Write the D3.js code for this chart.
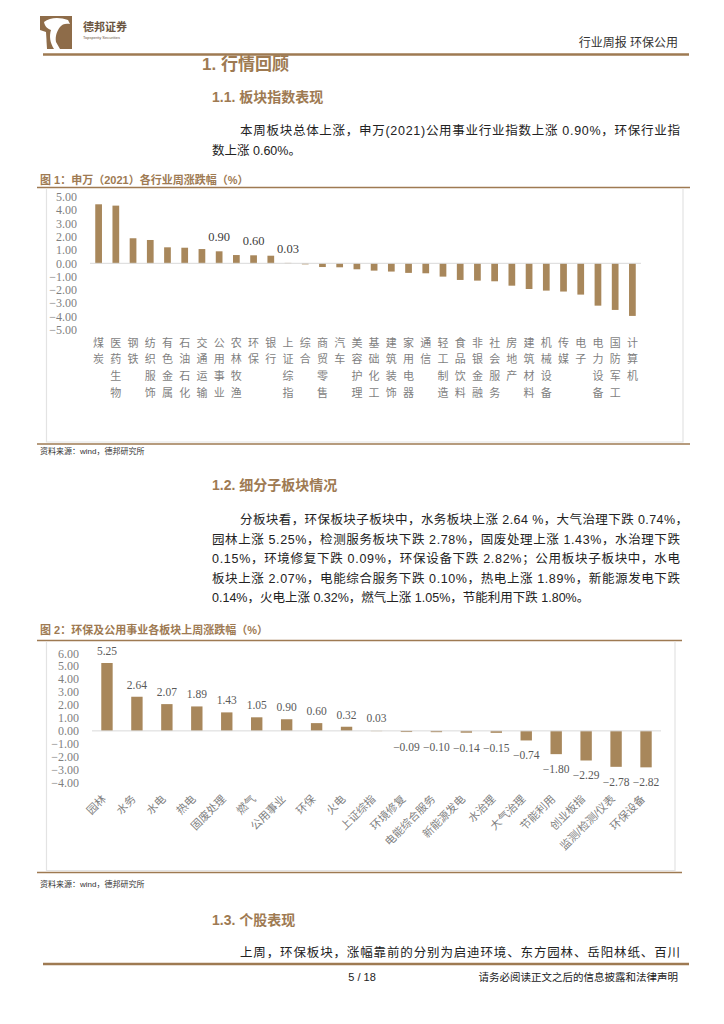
<!DOCTYPE html>
<html><head><meta charset="utf-8">
<script src="https://cdn.jsdelivr.net/npm/d3@7"></script>
<style>body{margin:0;background:#fff}svg{display:block}</style>
</head><body>
<svg id="page" width="724" height="1024"></svg>
<script>
// ---------- DATA ----------
const chart1Categories = ["煤炭","医药生物","钢铁","纺织服饰","有色金属","石油石化","交通运输","公用事业","农林牧渔","环保","银行","上证综指","综合","商贸零售","汽车","美容护理","基础化工","建筑装饰","家用电器","通信","轻工制造","食品饮料","非银金融","社会服务","房地产","建筑材料","机械设备","传媒","电子","电力设备","国防军工","计算机"];
const chart1Values = [4.43,4.33,1.88,1.75,1.20,1.17,1.07,0.90,0.62,0.60,0.57,0.03,-0.08,-0.28,-0.30,-0.45,-0.55,-0.62,-0.72,-0.75,-1.00,-1.25,-1.30,-1.35,-1.68,-1.93,-2.05,-2.12,-2.35,-3.18,-3.50,-3.95];
const chart1Labeled = ["公用事业","环保","上证综指"];
const chart1Ticks = [5,4,3,2,1,0,-1,-2,-3,-4,-5];

const chart2Categories = ["园林","水务","水电","热电","固废处理","燃气","公用事业","环保","火电","上证综指","环境修复","电能综合服务","新能源发电","水治理","大气治理","节能利用","创业板指","监测/检测/仪表","环保设备"];
const chart2Values = [5.25,2.64,2.07,1.89,1.43,1.05,0.90,0.60,0.32,0.03,-0.09,-0.10,-0.14,-0.15,-0.74,-1.80,-2.29,-2.78,-2.82];
const chart2Ticks = [6,5,4,3,2,1,0,-1,-2,-3,-4];

const para1 = ["本周板块总体上涨，申万(2021)公用事业行业指数上涨 0.90%，环保行业指","数上涨 0.60%。"];
const para2 = ["分板块看，环保板块子板块中，水务板块上涨 2.64 %，大气治理下跌 0.74%，","园林上涨 5.25%，检测服务板块下跌 2.78%，固废处理上涨 1.43%，水治理下跌","0.15%，环境修复下跌 0.09%，环保设备下跌 2.82%；公用板块子板块中，水电","板块上涨 2.07%，电能综合服务下跌 0.10%，热电上涨 1.89%，新能源发电下跌","0.14%，火电上涨 0.32%，燃气上涨 1.05%，节能利用下跌 1.80%。"];
const para3 = ["上周，环保板块，涨幅靠前的分别为启迪环境、东方园林、岳阳林纸、百川"];

// ---------- STYLE ----------
const BROWN = "#9E7A52", BAR = "#A8875B", GREY = "#7f7f7f", LIGHT = "#d9d9d9";
const CJK = "'Liberation Sans','Noto Sans CJK SC',sans-serif";
const SERIF = "'Liberation Serif','Noto Serif CJK SC',serif";
const fmt = d3.format(".2f");

const svg = d3.select("#page");

// ---------- HEADER ----------
const logo = svg.append("g");
logo.append("rect").attr("x",40).attr("y",16).attr("width",32).attr("height",33).attr("fill","#8E6C49");
logo.append("path").attr("d","M44,22 C50,17 60,17 68,20 L70,24 C66,23 62,24 60,27 C57,31 55,36 56,42 L60,49 L54,49 C50,43 49,36 51,30 C48,29 45,27 44,22 Z").attr("fill","#fff");
logo.append("path").attr("d","M40,30 L46,32 L47,49 L40,49 Z").attr("fill","#fff");
svg.append("text").attr("x",83).attr("y",31).text("德邦证券")
  .attr("font-family",CJK).attr("font-weight","bold").attr("font-size",11).attr("fill","#6b5540");
svg.append("text").attr("x",83).attr("y",39).text("Topsperity Securities")
  .attr("font-family",CJK).attr("font-size",4).attr("fill","#6b5540");
svg.append("text").attr("x",678).attr("y",47).attr("text-anchor","end").text("行业周报 环保公用")
  .attr("font-family",CJK).attr("font-size",12).attr("fill","#333");
svg.append("line").attr("x1",43).attr("x2",689).attr("y1",54.5).attr("y2",54.5).attr("stroke",BROWN).attr("stroke-width",2.5);

// ---------- TEXT BLOCKS ----------
function heading(t,x,y,size){
  svg.append("text").attr("x",x).attr("y",y).text(t).attr("font-family",CJK)
    .attr("font-weight","bold").attr("font-size",size).attr("fill",BROWN);
}
heading("1. 行情回顾",202,70,17);
heading("1.1. 板块指数表现",212,102,14);
heading("1.2. 细分子板块情况",212,490,14);
heading("1.3. 个股表现",212,925,14);

function para(lines,y0,lastJustified){
  lines.forEach((t,i)=>{
    const x = i===0 ? 240 : 212;
    const el = svg.append("text").attr("x",x).attr("y",y0+i*19.6).text(t)
      .attr("font-family",CJK).attr("font-size",12.5).attr("fill","#222");
    const full = i < lines.length-1 || lastJustified;
    if(full){
      const right = t.endsWith("，") ? 688 : 680;
      el.attr("textLength",right-x).attr("lengthAdjust","spacing");
    }
  });
}
para(para1,135,false);
para(para2,524,false);
para(para3,957,true);

// ---------- FOOTER ----------
svg.append("line").attr("x1",43).attr("x2",689).attr("y1",964).attr("y2",964).attr("stroke",BROWN).attr("stroke-width",2.5);
svg.append("text").attr("x",362).attr("y",981).attr("text-anchor","middle").text("5 / 18")
  .attr("font-family",CJK).attr("font-size",11).attr("fill","#222");
svg.append("text").attr("x",678).attr("y",981).attr("text-anchor","end").text("请务必阅读正文之后的信息披露和法律声明")
  .attr("font-family",CJK).attr("font-size",10.5).attr("fill","#222");

// ---------- CHART FRAME ----------
function frame(title, titleY, lineY, right, bottomY, srcY){
  svg.append("text").attr("x",40).attr("y",titleY).text(title)
    .attr("font-family",CJK).attr("font-weight","bold").attr("font-size",11).attr("fill",BROWN);
  svg.append("line").attr("x1",37).attr("x2",right+7).attr("y1",lineY).attr("y2",lineY).attr("stroke",BROWN).attr("stroke-width",1.5);
  svg.append("path").attr("d",`M46.5,${lineY+1} V${bottomY-2} H${right} V${lineY+1}`)
    .attr("fill","none").attr("stroke","#e3e3e3").attr("stroke-width",1.2);
  svg.append("line").attr("x1",37).attr("x2",right+7).attr("y1",bottomY).attr("y2",bottomY).attr("stroke",BROWN).attr("stroke-width",1.5);
  svg.append("text").attr("x",40).attr("y",srcY).text("资料来源：wind，德邦研究所")
    .attr("font-family",CJK).attr("font-size",8).attr("fill","#333");
}
frame("图 1：申万（2021）各行业周涨跌幅（%）",184,187.5,683,444,454);
frame("图 2：环保及公用事业各板块上周涨跌幅（%）",634,640.5,675,872.5,887);

// ---------- CHART 1 ----------
{
  const g = svg.append("g");
  const x = d3.scaleBand().domain(chart1Categories).range([90,641]);
  const y = d3.scaleLinear().domain([-5,5]).range([329.9,196.7]);
  const bw = x.bandwidth()*0.39;
  const cx = d => x(d)+x.bandwidth()/2;
  g.selectAll("text.yt").data(chart1Ticks).join("text").attr("class","yt")
    .attr("x",77).attr("y",d=>y(d)).attr("dy","0.35em").attr("text-anchor","end")
    .text(d=>fmt(d)).attr("font-family",SERIF).attr("font-size",12).attr("fill",GREY);
  g.selectAll("rect").data(chart1Categories).join("rect")
    .attr("x",d=>cx(d)-bw/2).attr("width",bw)
    .attr("y",(d,i)=>y(Math.max(0,chart1Values[i])))
    .attr("height",(d,i)=>Math.abs(y(chart1Values[i])-y(0)))
    .attr("fill",BAR);
  g.append("line").attr("x1",90).attr("x2",641).attr("y1",y(0)).attr("y2",y(0)).attr("stroke",LIGHT).attr("stroke-width",1);
  chart1Categories.forEach((c,i)=>{
    if(chart1Labeled.includes(c)){
      g.append("text").attr("x",cx(c)).attr("y",y(chart1Values[i])-10).attr("text-anchor","middle")
        .text(fmt(chart1Values[i])).attr("font-family",SERIF).attr("font-size",12.5).attr("fill","#404040");
    }
    Array.from(c).forEach((ch,k)=>{
      g.append("text").attr("x",cx(c)).attr("y",343+k*16.6).attr("dy","0.35em").attr("text-anchor","middle")
        .text(ch).attr("font-family",CJK).attr("font-size",11).attr("fill",GREY);
    });
  });
}

// ---------- CHART 2 ----------
{
  const g = svg.append("g");
  const x = d3.scaleBand().domain(chart2Categories).range([92,661]);
  const y = d3.scaleLinear().domain([-4,6]).range([782.6,653.3]);
  const bw = x.bandwidth()*0.38;
  const cx = d => x(d)+x.bandwidth()/2;
  g.selectAll("text.yt").data(chart2Ticks).join("text").attr("class","yt")
    .attr("x",79).attr("y",d=>y(d)).attr("dy","0.35em").attr("text-anchor","end")
    .text(d=>fmt(d)).attr("font-family",SERIF).attr("font-size",12).attr("fill",GREY);
  g.selectAll("rect").data(chart2Categories).join("rect")
    .attr("x",d=>cx(d)-bw/2).attr("width",bw)
    .attr("y",(d,i)=>y(Math.max(0,chart2Values[i])))
    .attr("height",(d,i)=>Math.max(1,Math.abs(y(chart2Values[i])-y(0))))
    .attr("fill",(d,i)=>Math.abs(chart2Values[i])<0.05 ? "#e6d9c7" : BAR);
  g.append("line").attr("x1",92).attr("x2",661).attr("y1",y(0)).attr("y2",y(0)).attr("stroke",LIGHT).attr("stroke-width",1);
  chart2Categories.forEach((c,i)=>{
    const v = chart2Values[i];
    const ly = v>=0 ? y(v)-8 : y(v)+19;
    g.append("text").attr("x",cx(c)).attr("y",ly).attr("text-anchor","middle")
      .text(fmt(v)).attr("font-family",SERIF).attr("font-size",11.5).attr("fill","#595959");
    g.append("text").attr("transform",`translate(${cx(c)-3},797) rotate(-45)`)
      .attr("text-anchor","end").attr("dy","0.35em").text(c)
      .attr("font-family",CJK).attr("font-size",11).attr("fill",GREY);
  });
}
</script></body></html>
